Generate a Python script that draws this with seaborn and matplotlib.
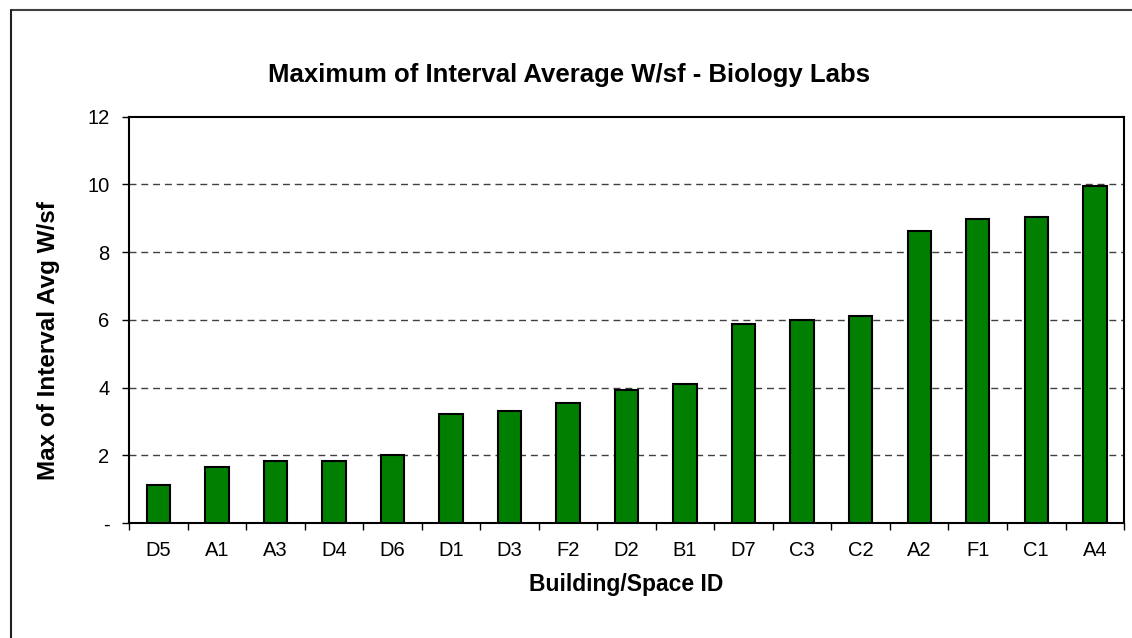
import matplotlib
matplotlib.use("Agg")
import matplotlib.pyplot as plt
import seaborn as sns
import pandas as pd
from matplotlib.lines import Line2D

categories = ["D5", "A1", "A3", "D4", "D6", "D1", "D3", "F2", "D2", "B1",
              "D7", "C3", "C2", "A2", "F1", "C1", "A4"]
values = [1.14, 1.66, 1.83, 1.83, 2.0, 3.21, 3.32, 3.55, 3.94, 4.12,
          5.89, 6.0, 6.12, 8.63, 8.97, 9.04, 9.95]
ytick_vals = [0, 2, 4, 6, 8, 10, 12]
ytick_labels = ["-", "2", "4", "6", "8", "10", "12"]

sns.set_style("white")
plt.rcParams['font.family'] = ['Liberation Sans', 'DejaVu Sans']
plt.rcParams['text.color'] = 'black'
plt.rcParams['axes.labelcolor'] = 'black'
plt.rcParams['xtick.color'] = 'black'
plt.rcParams['ytick.color'] = 'black'

df = pd.DataFrame({"id": categories, "val": values})

fig = plt.figure(figsize=(11.32, 6.38), dpi=100)
ax = fig.add_axes([0.114, 0.18, 0.879, 0.637])

sns.barplot(data=df, x="id", y="val", color="#007F00", saturation=1,
            width=0.4, edgecolor="black", linewidth=1.5, ax=ax, zorder=3)

ax.set_xlim(-0.5, len(categories) - 0.5)
ax.set_ylim(0, 12)
ax.set_yticks(ytick_vals)
ax.set_yticklabels(ytick_labels, fontsize=14.5)
ax.tick_params(axis="y", direction="out", length=5, width=1, color="black",
               left=True, pad=9)
ax.tick_params(axis="x", which="major", length=0, labelsize=14.5, pad=13)
ax.set_xticks([i - 0.5 for i in range(len(categories) + 1)], minor=True)
ax.tick_params(axis="x", which="minor", direction="out", length=5, width=1,
               color="black", bottom=True)

for yv in [2, 4, 6, 8, 10]:
    ax.axhline(yv, color="#404040", linewidth=1, linestyle=(0, (5, 3.5)), zorder=1)

for s in ax.spines.values():
    s.set_visible(True)
    s.set_color("black")
    s.set_linewidth(1.5)

ax.set_xlabel("Building/Space ID", fontsize=16.5, fontweight="bold", labelpad=9)
ax.set_ylabel("Max of Interval Avg W/sf", fontsize=17.5, fontweight="bold")
ax.yaxis.set_label_coords(-0.069, 0.45)
fig.text(0.503, 1 - 75 / 638, "Maximum of Interval Average W/sf - Biology Labs",
         ha="center", va="center", fontsize=18.5, fontweight="bold")

# chart-area border (top and left visible)
fig.add_artist(Line2D([11 / 1132, 1], [1 - 10 / 638, 1 - 10 / 638],
                      transform=fig.transFigure, color="#404040", linewidth=1.5))
fig.add_artist(Line2D([11 / 1132, 11 / 1132], [0, 1 - 10 / 638],
                      transform=fig.transFigure, color="#202020", linewidth=1.5))

fig.savefig("out.png", dpi=100)
